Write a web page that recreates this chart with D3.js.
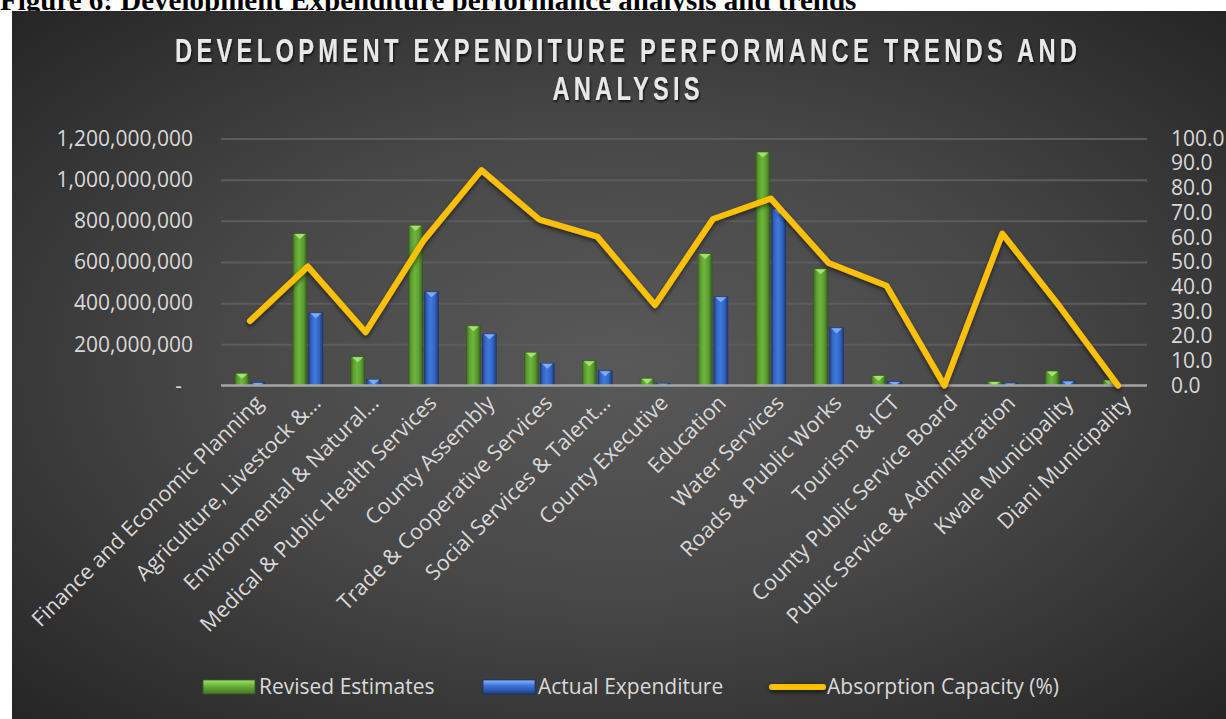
<!DOCTYPE html>
<html>
<head>
<meta charset="utf-8">
<script src="https://cdn.jsdelivr.net/npm/d3@7"></script>
<style>
  html, body { margin: 0; padding: 0; background: #ffffff; }
  svg { display: block; }
</style>
</head>
<body>
<div id="chart"></div>
<script>
(function () {
  var width = 1226;
  var height = 719;

  // Chart data
  var categories = [
    'Finance and Economic Planning',
    'Agriculture, Livestock &\u2026',
    'Environmental & Natural\u2026',
    'Medical & Public Health Services',
    'County Assembly',
    'Trade & Cooperative Services',
    'Social Services & Talent\u2026',
    'County Executive',
    'Education',
    'Water Services',
    'Roads & Public Works',
    'Tourism & ICT',
    'County Public Service Board',
    'Public Service & Administration',
    'Kwale Municipality',
    'Diani Municipality'
  ];
  var revisedEstimates = [59e6, 738e6, 140e6, 778e6, 290e6, 161e6, 120e6, 35e6, 641e6, 1134e6, 567e6, 49e6, 0, 20e6, 70e6, 27e6];
  var actualExpenditure = [15e6, 353e6, 30e6, 455e6, 251e6, 108e6, 72e6, 11e6, 431e6, 858e6, 280e6, 20e6, 0, 12e6, 22e6, 0];
  var absorption = [26.1, 48.2, 21.6, 58.7, 87.2, 67.2, 60.3, 32.6, 67.4, 75.7, 49.6, 40.4, 0, 61.5, 31.7, 0];
  var leftTicks = [0, 2e8, 4e8, 6e8, 8e8, 10e8, 12e8];
  var rightTicks = [0, 10, 20, 30, 40, 50, 60, 70, 80, 90, 100];
  var seriesNames = ['Revised Estimates', 'Actual Expenditure', 'Absorption Capacity (%)'];

  var plot = { left: 221, right: 1147, top: 138.5, bottom: 385.5 };
  var labelColor = '#d9d9d9';
  var gridColor = '#5c5c5c';
  var lineColor = '#ffc000';
  var font = '"Open Sans", "DejaVu Sans", sans-serif';

  var svg = d3.select('#chart')
    .append('svg')
    .attr('width', width)
    .attr('height', height)
    .attr('viewBox', [0, 0, width, height]);

  var defs = svg.append('defs');

  var bg = defs.append('radialGradient')
    .attr('id', 'bg')
    .attr('cx', '50%').attr('cy', '50%').attr('r', '72%');
  bg.append('stop').attr('offset', '0%').attr('stop-color', '#595959');
  bg.append('stop').attr('offset', '45%').attr('stop-color', '#484848');
  bg.append('stop').attr('offset', '100%').attr('stop-color', '#242424');

  function barGradient(id, stops) {
    var g = defs.append('linearGradient').attr('id', id)
      .attr('x1', '0%').attr('x2', '100%').attr('y1', '0%').attr('y2', '0%');
    stops.forEach(function (s) {
      g.append('stop').attr('offset', s[0]).attr('stop-color', s[1]);
    });
  }
  barGradient('gGreen', [['0%', '#3c6e1f'], ['20%', '#5e9e32'], ['45%', '#6fb63c'], ['75%', '#5c9c31'], ['100%', '#34621a']]);
  barGradient('gBlue', [['0%', '#1e3f86'], ['20%', '#3466c4'], ['45%', '#3f79dc'], ['75%', '#3264c0'], ['100%', '#1b3878']]);

  function legendGradient(id, stops) {
    var g = defs.append('linearGradient').attr('id', id)
      .attr('x1', '0%').attr('x2', '0%').attr('y1', '0%').attr('y2', '100%');
    stops.forEach(function (s) {
      g.append('stop').attr('offset', s[0]).attr('stop-color', s[1]);
    });
  }
  legendGradient('lgGreen', [['0%', '#a3e06a'], ['40%', '#6cb33d'], ['100%', '#3f7521']]);
  legendGradient('lgBlue', [['0%', '#8fb6ff'], ['40%', '#3d77d8'], ['100%', '#1f3f88']]);

  // Shadow filters (user space so that flat shapes keep a region)
  function dropShadow(id, dx, dy, sd, op) {
    var f = defs.append('filter').attr('id', id)
      .attr('filterUnits', 'userSpaceOnUse')
      .attr('x', 0).attr('y', 0).attr('width', width).attr('height', height);
    f.append('feDropShadow')
      .attr('dx', dx).attr('dy', dy).attr('stdDeviation', sd)
      .attr('flood-color', '#000').attr('flood-opacity', op);
  }
  dropShadow('lineShadow', 0, 2.5, 2.2, 0.55);
  dropShadow('textShadow', 1, 2, 1.3, 0.7);

  // Caption of the document page, mostly hidden under the chart panel
  svg.append('text')
    .attr('x', 0)
    .attr('y', 9.5)
    .attr('font-family', '"Liberation Serif", "Times New Roman", serif')
    .attr('font-weight', 'bold')
    .attr('font-size', 29)
    .attr('fill', '#000')
    .text('Figure 6: Development Expenditure performance analysis and trends');

  // Chart panel
  svg.append('rect')
    .attr('x', 12).attr('y', 11)
    .attr('width', width - 12).attr('height', height - 11)
    .attr('fill', 'url(#bg)');

  // Title (narrow letter-spaced caps, squeezed horizontally)
  var squeeze = 0.72;
  var title = svg.append('g')
    .attr('filter', 'url(#textShadow)')
    .append('g')
    .attr('transform', 'translate(626,0) scale(' + squeeze + ',1)')
    .attr('font-family', '"Liberation Sans", Arial, sans-serif')
    .attr('font-weight', 'bold')
    .attr('font-size', 33)
    .attr('fill', '#e8e8e8')
    .attr('text-anchor', 'middle');
  title.append('text')
    .attr('x', 0).attr('y', 62)
    .attr('textLength', 902 / squeeze).attr('lengthAdjust', 'spacing')
    .text('DEVELOPMENT EXPENDITURE PERFORMANCE TRENDS AND');
  title.append('text')
    .attr('x', 0).attr('y', 100)
    .attr('textLength', 147 / squeeze).attr('lengthAdjust', 'spacing')
    .text('ANALYSIS');

  // Scales
  var x = d3.scaleBand()
    .domain(categories)
    .range([plot.left, plot.right]);

  var xInner = d3.scaleBand()
    .domain(['revised', 'actual'])
    .range([0, 30])
    .paddingInner(0.12);

  var y = d3.scaleLinear()
    .domain([0, 1.2e9])
    .range([plot.bottom, plot.top]);

  var yRight = d3.scaleLinear()
    .domain([0, 100])
    .range([plot.bottom, plot.top]);

  // Gridlines
  var grid = svg.append('g')
    .attr('transform', 'translate(' + plot.left + ',0)')
    .call(d3.axisLeft(y).tickValues(leftTicks.slice(1)).tickSize(-(plot.right - plot.left)).tickFormat(''));
  grid.select('.domain').remove();
  grid.selectAll('line').attr('stroke', gridColor).attr('stroke-width', 2);

  // Left axis
  var leftAxis = svg.append('g')
    .attr('transform', 'translate(' + plot.left + ',0)')
    .call(d3.axisLeft(y)
      .tickValues(leftTicks)
      .tickSize(0)
      .tickPadding(28)
      .tickFormat(function (d) { return d === 0 ? '-' : d3.format(',')(d); }));
  leftAxis.select('.domain').remove();
  leftAxis.selectAll('text')
    .attr('font-family', font)
    .attr('font-size', 21)
    .attr('fill', labelColor)
    .attr('dx', function (d) { return d === 0 ? -11 : 0; });

  // Right axis
  var rightAxis = svg.append('g')
    .attr('transform', 'translate(' + plot.right + ',0)')
    .call(d3.axisRight(yRight)
      .tickValues(rightTicks)
      .tickSize(0)
      .tickPadding(24)
      .tickFormat(d3.format('.1f')));
  rightAxis.select('.domain').remove();
  rightAxis.selectAll('text')
    .attr('font-family', font)
    .attr('font-size', 21)
    .attr('fill', labelColor);

  // Bars
  var rows = categories.map(function (c, i) {
    return { cat: c, revised: revisedEstimates[i], actual: actualExpenditure[i], pct: absorption[i] };
  });

  var barStyles = {
    revised: { fill: 'url(#gGreen)', top: '#a8e873', edge: '#2f5a17' },
    actual: { fill: 'url(#gBlue)', top: '#86b0ff', edge: '#16306a' }
  };

  var groups = svg.append('g')
    .selectAll('g')
    .data(rows)
    .join('g')
    .attr('transform', function (d) {
      return 'translate(' + (x(d.cat) + x.bandwidth() / 2 - 15) + ',0)';
    });

  ['revised', 'actual'].forEach(function (key) {
    var st = barStyles[key];
    var bars = groups.filter(function (d) { return d[key] > 0; });
    bars.append('rect')
      .attr('x', xInner(key))
      .attr('width', xInner.bandwidth())
      .attr('y', function (d) { return y(d[key]); })
      .attr('height', function (d) { return y(0) - y(d[key]); })
      .attr('fill', st.fill)
      .attr('stroke', st.edge)
      .attr('stroke-width', 0.6)
      .attr('stroke-opacity', 0.7);
    bars.append('polygon')
      .attr('points', function (d) {
        var x0 = xInner(key) + 1.5;
        var x1 = xInner(key) + xInner.bandwidth() - 1.5;
        var top = y(d[key]) + 0.5;
        var h = Math.min(5, y(0) - y(d[key]) - 0.5);
        return [[x0, top], [x1, top], [(x0 + x1) / 2, top + h]].map(function (p) { return p.join(','); }).join(' ');
      })
      .attr('fill', st.top)
      .attr('opacity', 0.9);
  });

  // Baseline
  svg.append('line')
    .attr('x1', plot.left).attr('x2', plot.right)
    .attr('y1', y(0)).attr('y2', y(0))
    .attr('stroke', '#a6a6a6')
    .attr('stroke-width', 2.5);

  // Absorption line
  var line = d3.line()
    .x(function (d) { return x(d.cat) + x.bandwidth() / 2; })
    .y(function (d) { return yRight(d.pct); });

  svg.append('path')
    .datum(rows)
    .attr('d', line)
    .attr('fill', 'none')
    .attr('stroke', lineColor)
    .attr('stroke-width', 6)
    .attr('stroke-linejoin', 'round')
    .attr('stroke-linecap', 'round')
    .attr('filter', 'url(#lineShadow)');

  // Category labels
  svg.append('g')
    .selectAll('text')
    .data(categories)
    .join('text')
    .attr('transform', function (d) {
      return 'translate(' + (x(d) + x.bandwidth() / 2 + 9) + ',' + 399 + ') rotate(-45)';
    })
    .attr('text-anchor', 'end')
    .attr('dy', '0.35em')
    .attr('font-family', font)
    .attr('font-size', 21.5)
    .attr('fill', labelColor)
    .text(function (d) { return d; });

  // Legend
  var legend = svg.append('g')
    .attr('font-family', font)
    .attr('font-size', 21)
    .attr('fill', labelColor);

  var legendItems = [
    { name: seriesNames[0], type: 'bar', fill: 'url(#lgGreen)', edge: '#2f5a17', x: 203, textX: 259 },
    { name: seriesNames[1], type: 'bar', fill: 'url(#lgBlue)', edge: '#16306a', x: 483, textX: 538 },
    { name: seriesNames[2], type: 'line', x: 769, textX: 827 }
  ];

  legendItems.forEach(function (it) {
    if (it.type === 'bar') {
      legend.append('rect')
        .attr('x', it.x).attr('y', 680)
        .attr('width', 52).attr('height', 14)
        .attr('fill', it.fill)
        .attr('stroke', it.edge)
        .attr('stroke-width', 0.8);
    } else {
      legend.append('line')
        .attr('x1', it.x + 3).attr('x2', it.x + 54)
        .attr('y1', 687).attr('y2', 687)
        .attr('stroke', lineColor)
        .attr('stroke-width', 6)
        .attr('stroke-linecap', 'round')
        .attr('filter', 'url(#lineShadow)');
    }
    legend.append('text')
      .attr('x', it.textX)
      .attr('y', 694)
      .text(it.name);
  });
})();
</script>
</body>
</html>
